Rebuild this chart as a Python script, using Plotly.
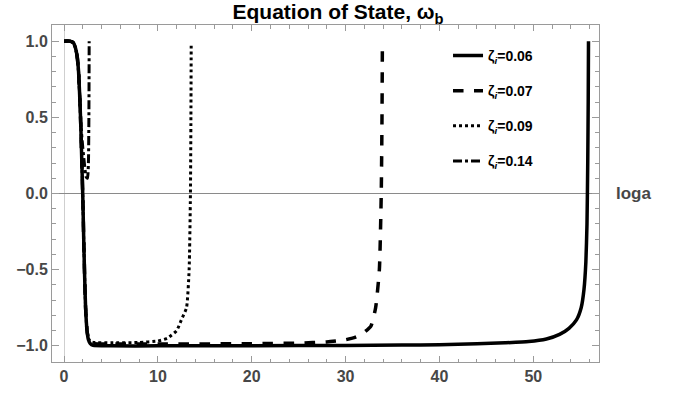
import plotly.graph_objects as go

# ---- data ----
labels = ["ζ<sub><i>i</i></sub>=0.06", "ζ<sub><i>i</i></sub>=0.07",
          "ζ<sub><i>i</i></sub>=0.09", "ζ<sub><i>i</i></sub>=0.14"]

x_006 = [0, 0.6, 1.0, 1.2, 1.4, 1.55, 1.7, 1.8, 1.9, 2.0, 2.1, 2.2, 2.3, 2.45, 2.6, 2.8, 3.1, 5, 10, 20, 30,
         36, 40, 44, 47, 49.5, 51.4, 52.8, 53.8, 54.6, 55.1, 55.4, 55.6, 55.72, 55.8, 55.85, 55.88]
y_006 = [1, 1, 0.99, 0.96, 0.9, 0.8, 0.6, 0.42, 0.2, -0.02, -0.3, -0.55, -0.75, -0.9, -0.96, -0.985, -0.997, -1.0, -1.0, -0.999, -0.997,
         -0.995, -0.992, -0.987, -0.98, -0.972, -0.955, -0.925, -0.885, -0.83, -0.75, -0.63, -0.45, -0.2, 0.2, 0.6, 1.0]

x_007 = [0, 0.6, 1.0, 1.2, 1.4, 1.55, 1.7, 1.8, 1.9, 2.0, 2.1, 2.2, 2.3, 2.45, 2.6, 2.8, 3.2, 5, 10, 20, 25,
         28, 30, 31, 31.7, 32.7, 33.2, 33.6, 33.8, 33.88, 33.92]
y_007 = [1, 1, 0.99, 0.96, 0.9, 0.8, 0.6, 0.42, 0.2, -0.02, -0.3, -0.55, -0.75, -0.9, -0.95, -0.975, -0.985, -0.988, -0.988, -0.986, -0.982,
         -0.974, -0.96, -0.945, -0.925, -0.87, -0.75, -0.5, 0.0, 0.5, 0.99]

x_009 = [0, 0.6, 1.0, 1.2, 1.4, 1.55, 1.7, 1.8, 1.9, 2.0, 2.1, 2.2, 2.3, 2.45, 2.6, 2.8, 3.2, 5, 8,
         10, 11, 12, 12.5, 13.05, 13.33, 13.47, 13.52, 13.55]
y_009 = [1, 1, 0.99, 0.96, 0.9, 0.8, 0.6, 0.42, 0.2, -0.02, -0.3, -0.55, -0.75, -0.9, -0.95, -0.97, -0.978, -0.98, -0.978,
         -0.968, -0.95, -0.9, -0.83, -0.75, -0.5, 0.0, 0.5, 0.97]

x_014 = [0, 0.6, 1.0, 1.2, 1.4, 1.55, 1.7, 1.8, 2.0, 2.2, 2.35, 2.5, 2.6, 2.65, 2.68]
y_014 = [1, 1, 0.99, 0.96, 0.9, 0.8, 0.6, 0.45, 0.3, 0.18, 0.11, 0.1, 0.2, 0.5, 1.0]

series_x = [x_006, x_007, x_009, x_014]
series_y = [y_006, y_007, y_009, y_014]
dashes = ["solid", "dash", "dot", "dashdot"]
widths = [3.5, 3.5, 3, 3]

x_ticks = [0, 10, 20, 30, 40, 50]
y_ticks = [-1.0, -0.5, 0.0, 0.5, 1.0]
y_ticklabels = ["\u22121.0", "\u22120.5", "0.0", "0.5", "1.0"]

FONT = "Liberation Sans, Arial, sans-serif"

fig = go.Figure()
for i in range(4):
    fig.add_trace(go.Scatter(
        x=series_x[i], y=series_y[i], mode="lines", name=labels[i],
        legendgroup=f"g{i}",
        line=dict(color="black", width=widths[i], dash=dashes[i], shape="spline", smoothing=0.5),
    ))

axis_common = dict(
    showline=True, linecolor="#9a9a9a", linewidth=1, mirror="ticks",
    ticks="inside", tickcolor="#9a9a9a", showgrid=False, automargin=False,
    tickfont=dict(family=FONT, size=16, color="#474747", weight="bold"),
)

fig.update_layout(
    width=676, height=393,
    margin=dict(l=52, r=77, t=25, b=31),
    paper_bgcolor="white", plot_bgcolor="white",
    title=dict(text="<b>Equation of State, ω<sub>b</sub></b>", x=0.5, xref="container", xanchor="center",
               y=0.97, yref="container", yanchor="middle",
               font=dict(family=FONT, size=21, color="black")),
    xaxis=dict(range=[-1.28, 57.0], tickvals=x_ticks, ticklen=6,
               minor=dict(dtick=2, ticks="inside", ticklen=3.5, tickcolor="#9a9a9a"),
               zeroline=True, zerolinecolor="#cfcfcf", zerolinewidth=1,
               **axis_common),
    yaxis=dict(range=[-1.106, 1.106], tickvals=y_ticks, ticktext=y_ticklabels, ticklen=7,
               minor=dict(dtick=0.1, ticks="inside", ticklen=4, tickcolor="#9a9a9a"),
               zeroline=True, zerolinecolor="#8a8a8a", zerolinewidth=1,
               **axis_common),
    showlegend=True,
    legend=dict(x=0.724, y=0.956, xanchor="left", yanchor="top", bgcolor="rgba(0,0,0,0)",
                tracegroupgap=14,
                font=dict(family=FONT, size=14, color="black", weight="bold")),
    annotations=[dict(text="<b>loga</b>", x=1.027, xref="paper", y=0, yref="y",
                      xanchor="left", yanchor="middle", showarrow=False,
                      font=dict(family=FONT, size=17, color="#474747"))],
)

fig.write_html("out.html", config={"displayModeBar": False},
               post_script="document.body.style.margin='0px';")
